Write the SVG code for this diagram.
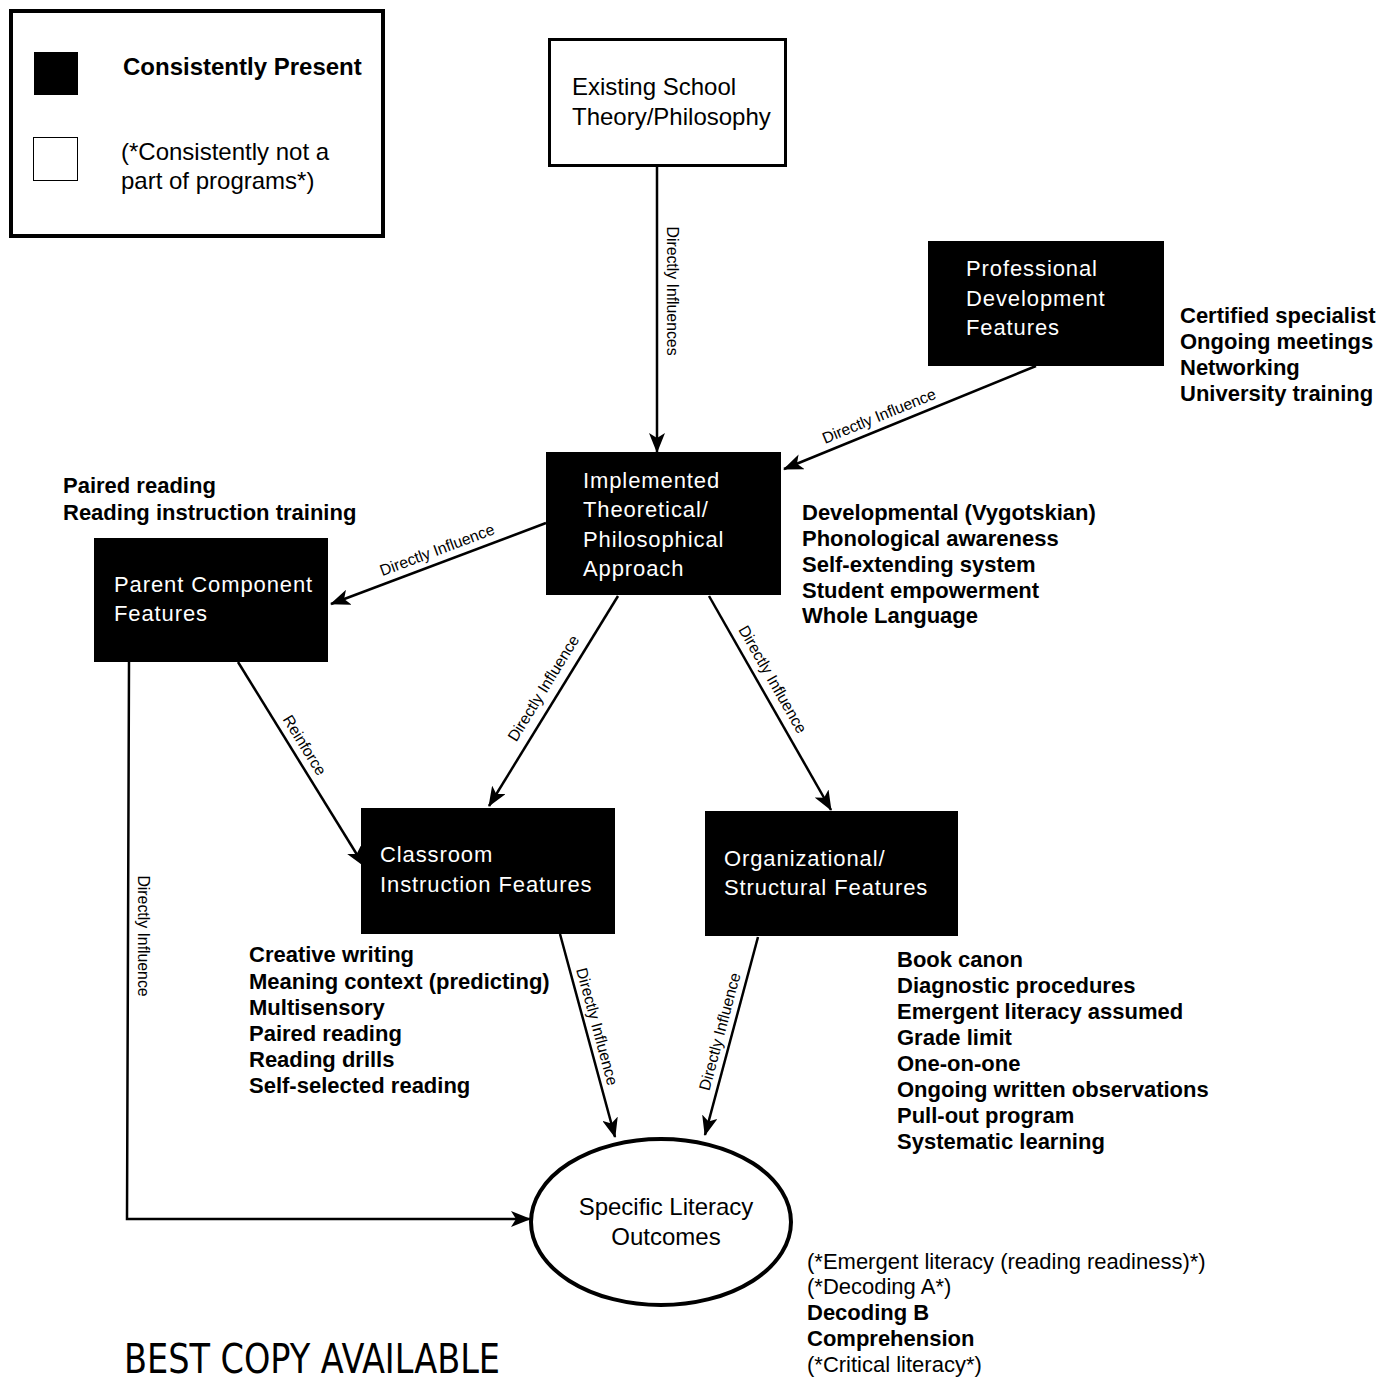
<svg xmlns="http://www.w3.org/2000/svg" width="1382" height="1381" viewBox="0 0 1382 1381">
  <defs>
    <marker id="arr" viewBox="0 0 20 16" refX="19" refY="8" markerWidth="20" markerHeight="16" markerUnits="userSpaceOnUse" orient="auto">
      <path d="M0,0 L20,8 L0,16 L5,8 Z" fill="#000"/>
    </marker>
    <style>
      .box { fill: #000; }
      .wt { fill: #fff; font-family: "Liberation Sans", Arial, sans-serif; font-size: 22px; letter-spacing: 0.9px; }
      .bt { fill: #000; font-family: "Liberation Sans", Arial, sans-serif; font-size: 24px; }
      .list { fill: #000; font-family: "Liberation Sans", Arial, sans-serif; font-size: 22px; font-weight: bold; }
      .reg { fill: #000; font-family: "Liberation Sans", Arial, sans-serif; font-size: 22px; }
      .lbl { fill: #000; font-family: "Liberation Sans", Arial, sans-serif; font-size: 15.8px; text-anchor: middle; }
      .edge { stroke: #000; stroke-width: 2.5; fill: none; marker-end: url(#arr); }
    </style>
  </defs>
  <rect width="1382" height="1381" fill="#fff"/>

  <!-- legend -->
  <g id="legend">
    <rect x="11" y="11" width="372" height="225" fill="#fff" stroke="#000" stroke-width="4"/>
    <rect x="34" y="52" width="44" height="43" fill="#000"/>
    <rect x="33.5" y="137.5" width="44" height="43" fill="#fff" stroke="#000" stroke-width="1"/>
    <text x="123" y="75" class="bt" font-weight="bold">Consistently Present</text>
    <text x="121" y="160" class="bt">(*Consistently not a</text>
    <text x="121" y="189" class="bt">part of programs*)</text>
  </g>

  <!-- connectors -->
  <g id="connectors">
    <line class="edge" x1="657" y1="166" x2="657" y2="452"/>
    <text class="lbl" transform="translate(667,291) rotate(90)">Directly Influences</text>

    <line class="edge" x1="1036" y1="366" x2="784" y2="469"/>
    <text class="lbl" transform="translate(881,421) rotate(-22.2)">Directly Influence</text>

    <line class="edge" x1="546" y1="523" x2="331" y2="604"/>
    <text class="lbl" transform="translate(439,555) rotate(-20.6)">Directly Influence</text>

    <line class="edge" x1="618" y1="596" x2="489" y2="806"/>
    <text class="lbl" transform="translate(548,691) rotate(-58.4)">Directly Influence</text>

    <line class="edge" x1="709" y1="596" x2="831" y2="810"/>
    <text class="lbl" transform="translate(768,682) rotate(60.3)">Directly Influence</text>

    <line class="edge" x1="238" y1="662" x2="364" y2="866"/>
    <text class="lbl" transform="translate(300,748) rotate(58.3)">Reinforce</text>

    <polyline class="edge" points="129,662 127,1219 530,1219"/>
    <text class="lbl" transform="translate(138,936) rotate(90)">Directly Influence</text>

    <line class="edge" x1="560" y1="934" x2="615" y2="1137"/>
    <text class="lbl" transform="translate(592,1028) rotate(74.8)">Directly Influence</text>

    <line class="edge" x1="758" y1="937" x2="705" y2="1135"/>
    <text class="lbl" transform="translate(725,1033) rotate(-75)">Directly Influence</text>
  </g>

  <!-- nodes -->
  <g id="existing-school">
    <rect x="549.5" y="39.5" width="236" height="126" fill="#fff" stroke="#000" stroke-width="3"/>
    <text x="572" y="95" class="bt">Existing School</text>
    <text x="572" y="125" class="bt">Theory/Philosophy</text>
  </g>

  <g id="professional-development">
    <rect class="box" x="928" y="241" width="236" height="125"/>
    <text x="966" y="276" class="wt">Professional</text>
    <text x="966" y="306" class="wt">Development</text>
    <text x="966" y="335" class="wt">Features</text>
  </g>
  <g id="professional-development-list">
    <text x="1180" y="323" class="list">Certified specialist</text>
    <text x="1180" y="349" class="list">Ongoing meetings</text>
    <text x="1180" y="375" class="list">Networking</text>
    <text x="1180" y="401" class="list">University training</text>
  </g>

  <g id="implemented-approach">
    <rect class="box" x="546" y="452" width="235" height="143"/>
    <text x="583" y="488" class="wt">Implemented</text>
    <text x="583" y="517" class="wt">Theoretical/</text>
    <text x="583" y="547" class="wt">Philosophical</text>
    <text x="583" y="576" class="wt">Approach</text>
  </g>
  <g id="implemented-approach-list">
    <text x="802" y="520" class="list">Developmental (Vygotskian)</text>
    <text x="802" y="546" class="list">Phonological awareness</text>
    <text x="802" y="572" class="list">Self-extending system</text>
    <text x="802" y="598" class="list">Student empowerment</text>
    <text x="802" y="623" class="list">Whole Language</text>
  </g>

  <g id="parent-component">
    <rect class="box" x="94" y="538" width="234" height="124"/>
    <text x="114" y="592" class="wt">Parent Component</text>
    <text x="114" y="621" class="wt">Features</text>
  </g>
  <g id="parent-component-list">
    <text x="63" y="493" class="list">Paired reading</text>
    <text x="63" y="520" class="list">Reading instruction training</text>
  </g>

  <g id="classroom-instruction">
    <rect class="box" x="361" y="808" width="254" height="126"/>
    <text x="380" y="862" class="wt">Classroom</text>
    <text x="380" y="892" class="wt">Instruction Features</text>
  </g>
  <g id="classroom-instruction-list">
    <text x="249" y="962" class="list">Creative writing</text>
    <text x="249" y="989" class="list">Meaning context (predicting)</text>
    <text x="249" y="1015" class="list">Multisensory</text>
    <text x="249" y="1041" class="list">Paired reading</text>
    <text x="249" y="1067" class="list">Reading drills</text>
    <text x="249" y="1093" class="list">Self-selected reading</text>
  </g>

  <g id="organizational-structural">
    <rect class="box" x="705" y="811" width="253" height="125"/>
    <text x="724" y="866" class="wt">Organizational/</text>
    <text x="724" y="895" class="wt">Structural Features</text>
  </g>
  <g id="organizational-structural-list">
    <text x="897" y="967" class="list">Book canon</text>
    <text x="897" y="993" class="list">Diagnostic procedures</text>
    <text x="897" y="1019" class="list">Emergent literacy assumed</text>
    <text x="897" y="1045" class="list">Grade limit</text>
    <text x="897" y="1071" class="list">One-on-one</text>
    <text x="897" y="1097" class="list">Ongoing written observations</text>
    <text x="897" y="1123" class="list">Pull-out program</text>
    <text x="897" y="1149" class="list">Systematic learning</text>
  </g>

  <g id="literacy-outcomes">
    <ellipse cx="661" cy="1222" rx="130" ry="83" fill="#fff" stroke="#000" stroke-width="4"/>
    <text x="666" y="1215" class="bt" text-anchor="middle">Specific Literacy</text>
    <text x="666" y="1245" class="bt" text-anchor="middle">Outcomes</text>
  </g>
  <g id="literacy-outcomes-list">
    <text x="807" y="1269" class="reg">(*Emergent literacy (reading readiness)*)</text>
    <text x="807" y="1294" class="reg">(*Decoding A*)</text>
    <text x="807" y="1320" class="list">Decoding B</text>
    <text x="807" y="1346" class="list">Comprehension</text>
    <text x="807" y="1372" class="reg">(*Critical literacy*)</text>
  </g>

  <text x="124" y="1373" font-family="'Liberation Sans Narrow', 'DejaVu Sans Condensed', sans-serif" font-size="40" textLength="376" lengthAdjust="spacingAndGlyphs">BEST COPY AVAILABLE</text>
</svg>
